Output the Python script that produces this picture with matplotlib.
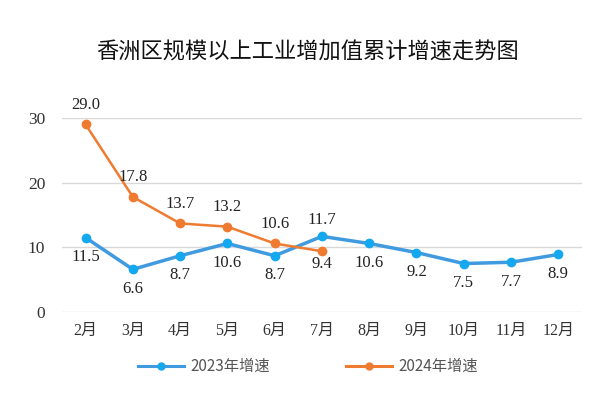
import matplotlib
matplotlib.use('Agg')
import matplotlib.pyplot as plt
from matplotlib.lines import Line2D

months = ['2月', '3月', '4月', '5月', '6月', '7月', '8月', '9月', '10月', '11月', '12月']
y2023 = [11.5, 6.6, 8.7, 10.6, 8.7, 11.7, 10.6, 9.2, 7.5, 7.7, 8.9]
y2024 = [29.0, 17.8, 13.7, 13.2, 10.6, 9.4]
yticks = [0, 10, 20, 30]

blue = '#3f9ae0'
blue_m = '#14a8ee'
orange = '#ee7b30'
serif = ['Liberation Serif', 'Noto Sans CJK SC']

fig = plt.figure(figsize=(6.16, 3.94), dpi=100)
ax = fig.add_axes([0.1006, 0.208, 0.844, 0.4925])
x = list(range(len(months)))

ax.plot(x, y2023, color=blue, lw=2.5, marker='o', ms=6, mfc=blue_m, mec=blue_m)
ax.plot(x[:len(y2024)], y2024, color=orange, lw=1.8, marker='o', ms=6, mfc=orange, mec=orange)

# data labels
for i, v in enumerate(y2023):
    off = 12 if i == 5 else -14
    ax.annotate(f'{v:.1f}', (i, v), xytext=(0, off), textcoords='offset points',
                ha='center', va='center', fontsize=12, family=serif, color='#222222',
                annotation_clip=False)
for i, v in enumerate(y2024):
    off = -9 if i == 5 else 14
    ax.annotate(f'{v:.1f}', (i, v), xytext=(0, off), textcoords='offset points',
                ha='center', va='center', fontsize=12, family=serif, color='#222222',
                annotation_clip=False)

ax.set_xlim(-0.5, len(months) - 0.5)
ax.set_ylim(0, 30)
ax.set_yticks(yticks)
ax.set_xticks(x)
ax.set_xticklabels(months, family=serif, fontsize=11.5, color='#333333')
for lab in ax.get_yticklabels():
    lab.set_family(serif)
    lab.set_fontsize(12.5)
    lab.set_color('#333333')
ax.tick_params(length=0, pad=12)
ax.tick_params(axis='x', pad=8)
ax.grid(axis='y', color='#d9d9d9', lw=1)
ax.set_axisbelow(True)
for s in ax.spines.values():
    s.set_visible(False)

fig.text(0.5, 0.868, '香洲区规模以上工业增加值累计增速走势图', ha='center', va='center',
         fontsize=16, family=['Noto Sans CJK SC', 'DejaVu Sans'], color='#111111')

handles = [Line2D([], [], color=blue, lw=2.2, marker='o', ms=5, mfc=blue_m, mec=blue_m),
           Line2D([], [], color=orange, lw=2.2, marker='o', ms=5, mfc=orange, mec=orange)]
fig.legend(handles, ['2023年增速', '2024年增速'], loc='center', bbox_to_anchor=(0.5, 0.07),
           ncol=2, frameon=False, columnspacing=5, handlelength=3, handletextpad=0.4,
           prop={'family': ['Noto Sans CJK SC', 'DejaVu Sans'], 'size': 11},
           labelcolor='#555555')

fig.savefig('out.png', dpi=100)
